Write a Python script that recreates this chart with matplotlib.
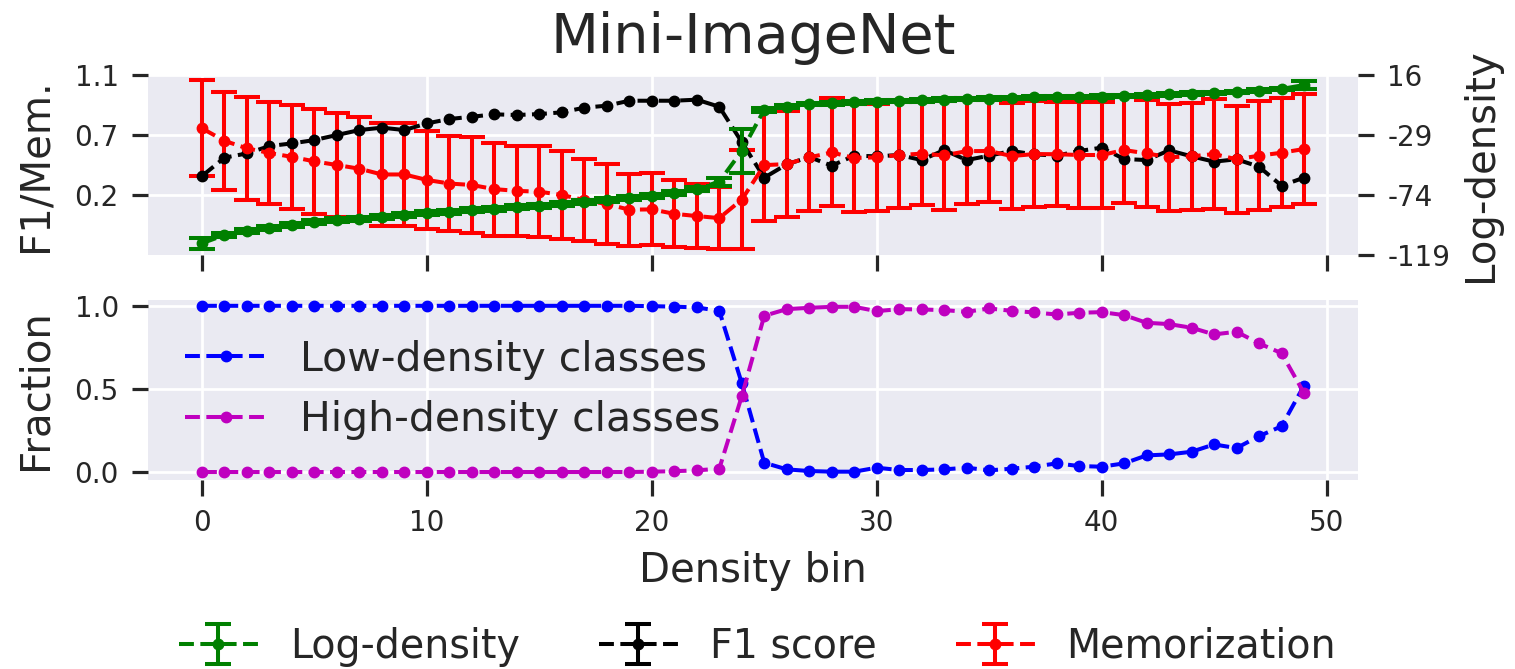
import numpy as np
import matplotlib
matplotlib.use("Agg")
import matplotlib.pyplot as plt

# ---------------- data ----------------
bins = list(range(50))

log_density = [-110.2, -104.0, -100.8, -98.5, -96.5, -94.5, -93.0, -92.0, -90.8, -89.0,
               -87.8, -86.5, -85.3, -84.5, -83.3, -82.0, -80.8, -79.0, -77.8, -76.5,
               -74.8, -72.3, -69.5, -64.0, -41.0, -10.0, -7.75, -5.75, -5.25, -4.5,
               -4.0, -3.5, -3.0, -2.5, -2.0, -1.75, -1.25, -0.75, -0.5, -0.5,
               -0.25, 0.25, 0.75, 1.5, 2.0, 2.5, 3.25, 4.25, 5.5, 8.5]
log_density_err = [4.0, 1.5, 1.5, 1.5, 1.5, 1.5, 1.5, 1.5, 1.5, 1.5,
                   1.5, 1.5, 1.5, 1.5, 1.5, 1.5, 1.5, 1.5, 1.5, 1.5,
                   1.5, 1.5, 1.5, 3.0, 16.5, 1.5, 1.0, 1.0, 1.0, 1.0,
                   1.0, 1.0, 1.0, 1.0, 1.0, 1.0, 1.0, 1.0, 1.0, 1.0,
                   1.0, 1.0, 1.0, 1.0, 1.0, 1.0, 1.0, 1.0, 1.0, 3.0]

f1_score = [0.342, 0.48, 0.512, 0.567, 0.587, 0.612, 0.65, 0.687, 0.705, 0.687,
            0.737, 0.77, 0.787, 0.805, 0.80, 0.807, 0.82, 0.855, 0.87, 0.907,
            0.907, 0.907, 0.915, 0.862, 0.597, 0.33, 0.43, 0.485, 0.42, 0.495,
            0.49, 0.50, 0.462, 0.537, 0.462, 0.495, 0.53, 0.505, 0.495, 0.53,
            0.555, 0.47, 0.462, 0.535, 0.49, 0.45, 0.468, 0.412, 0.27, 0.33]

memorization = [0.70, 0.606, 0.55, 0.515, 0.486, 0.452, 0.425, 0.397, 0.354, 0.354,
                0.313, 0.286, 0.275, 0.244, 0.231, 0.225, 0.20, 0.162, 0.132, 0.09,
                0.092, 0.059, 0.042, 0.027, 0.165, 0.424, 0.432, 0.482, 0.519, 0.478,
                0.482, 0.50, 0.51, 0.497, 0.529, 0.53, 0.492, 0.507, 0.506, 0.50,
                0.50, 0.537, 0.512, 0.483, 0.49, 0.507, 0.468, 0.495, 0.517, 0.545]
memorization_err = [0.36, 0.37, 0.385, 0.382, 0.39, 0.395, 0.39, 0.39, 0.385, 0.385,
                    0.368, 0.353, 0.362, 0.348, 0.34, 0.341, 0.33, 0.306, 0.30, 0.27,
                    0.27, 0.25, 0.24, 0.23, 0.37, 0.42, 0.40, 0.40, 0.405, 0.406,
                    0.40, 0.394, 0.387, 0.407, 0.398, 0.385, 0.40, 0.40, 0.39, 0.40,
                    0.40, 0.40, 0.40, 0.40, 0.40, 0.41, 0.40, 0.41, 0.41, 0.41]

low_density_frac = [1.0, 1.0, 1.0, 1.0, 1.0, 1.0, 1.0, 1.0, 1.0, 1.0,
                    1.0, 1.0, 1.0, 1.0, 1.0, 1.0, 1.0, 1.0, 1.0, 1.0,
                    0.998, 0.995, 0.99, 0.97, 0.535, 0.056, 0.016, 0.006, 0.002, 0.002,
                    0.026, 0.012, 0.012, 0.016, 0.026, 0.01, 0.02, 0.032, 0.052, 0.036,
                    0.032, 0.052, 0.10, 0.106, 0.122, 0.166, 0.144, 0.216, 0.275, 0.52]
high_density_frac = [0.0, 0.0, 0.0, 0.0, 0.0, 0.0, 0.0, 0.0, 0.0, 0.0,
                     0.0, 0.0, 0.0, 0.0, 0.0, 0.0, 0.0, 0.0, 0.0, 0.0,
                     0.002, 0.005, 0.01, 0.02, 0.455, 0.94, 0.98, 0.988, 0.994, 0.994,
                     0.968, 0.98, 0.978, 0.974, 0.964, 0.984, 0.97, 0.96, 0.948, 0.958,
                     0.962, 0.944, 0.898, 0.89, 0.868, 0.828, 0.844, 0.774, 0.715, 0.475]

title = "Mini-ImageNet"
x_ticks = [0, 10, 20, 30, 40, 50]
left_ticks = [0.2, 0.65, 1.1]
left_ticklabels = ["0.2", "0.7", "1.1"]
right_ticks = [-119, -74, -29, 16]
frac_ticks = [0.0, 0.5, 1.0]

# ---------------- style ----------------
TXT = "#262626"
plt.rcParams.update({
    "font.family": ["DejaVu Sans"],
    "axes.facecolor": "#EAEAF2",
    "axes.edgecolor": "white",
    "axes.linewidth": 0,
    "axes.grid": True,
    "grid.color": "white",
    "grid.linewidth": 2.0,
    "axes.axisbelow": True,
    "text.color": TXT,
    "axes.labelcolor": TXT,
    "xtick.color": TXT,
    "ytick.color": TXT,
    "xtick.major.size": 11.5,
    "ytick.major.size": 11.5,
    "xtick.major.width": 2.3,
    "ytick.major.width": 2.3,
    "xtick.major.pad": 9.5,
    "ytick.major.pad": 9.5,
    "xtick.labelsize": 20,
    "ytick.labelsize": 20,
    "axes.labelsize": 29,
})

fig = plt.figure(figsize=(15.15, 6.69), dpi=100)
W, H = 1515.0, 669.0
ax1 = fig.add_axes([148 / W, 1 - 255 / H, 1210 / W, 180 / H])
ax3 = fig.add_axes([148 / W, 1 - 479.5 / H, 1210 / W, 179.5 / H])

LW = 2.9
MS = 7.5
CAP = 9.7

# ---- top panel ----
e_f1 = ax1.errorbar(bins, f1_score, yerr=np.full(len(f1_score), np.nan),
                    fmt="--o", color="k", lw=LW, ms=MS, capsize=CAP,
                    capthick=LW, elinewidth=LW, label="F1 score")
e_mem = ax1.errorbar(bins, memorization, yerr=memorization_err,
                     fmt="--o", color="r", lw=LW, ms=MS, capsize=CAP,
                     capthick=LW, elinewidth=LW, label="Memorization")
ax1.set_ylim(-0.25, 1.1)
ax1.set_yticks(left_ticks)
ax1.set_yticklabels(left_ticklabels)
ax1.set_ylabel("F1/Mem.", labelpad=14)
ax1.set_xlim(-2.4, 51.4)
ax1.set_xticks(x_ticks)
ax1.tick_params(axis="x", labelbottom=False)
ax1.set_title(title, fontsize=40, pad=16, color=TXT)

ax2 = ax1.twinx()
ax2.grid(False)
e_ld = ax2.errorbar(bins, log_density, yerr=log_density_err,
                    fmt="--o", color="g", lw=LW, ms=MS, capsize=CAP,
                    capthick=LW, elinewidth=LW, label="Log-density")
ax2.set_ylim(-119, 16)
ax2.set_yticks(right_ticks)
ax2.set_yticklabels([str(t) for t in right_ticks])
ax2.set_ylabel("Log-density", labelpad=8)
for s in ax2.spines.values():
    s.set_visible(False)

# ---- bottom panel ----
ax3.plot(bins, low_density_frac, "--o", color="b", lw=LW, ms=MS,
         label="Low-density classes")
ax3.plot(bins, high_density_frac, "--o", color="m", lw=LW, ms=MS,
         label="High-density classes")
ax3.set_xlim(-2.4, 51.4)
ax3.set_xticks(x_ticks)
ax3.set_ylim(-0.045, 1.035)
ax3.set_yticks(frac_ticks)
ax3.set_ylabel("Fraction", labelpad=14)
ax3.set_xlabel("Density bin", labelpad=10)
ax3.legend(loc="center left", fontsize=29.5, frameon=False)

for a in (ax1, ax3):
    for s in a.spines.values():
        s.set_visible(False)

fig.legend([e_ld, e_f1, e_mem], ["Log-density", "F1 score", "Memorization"],
           loc="lower center", bbox_to_anchor=(0.5, -0.05), ncol=3,
           fontsize=28.5, frameon=False)

fig.savefig("out.png", dpi=100)
